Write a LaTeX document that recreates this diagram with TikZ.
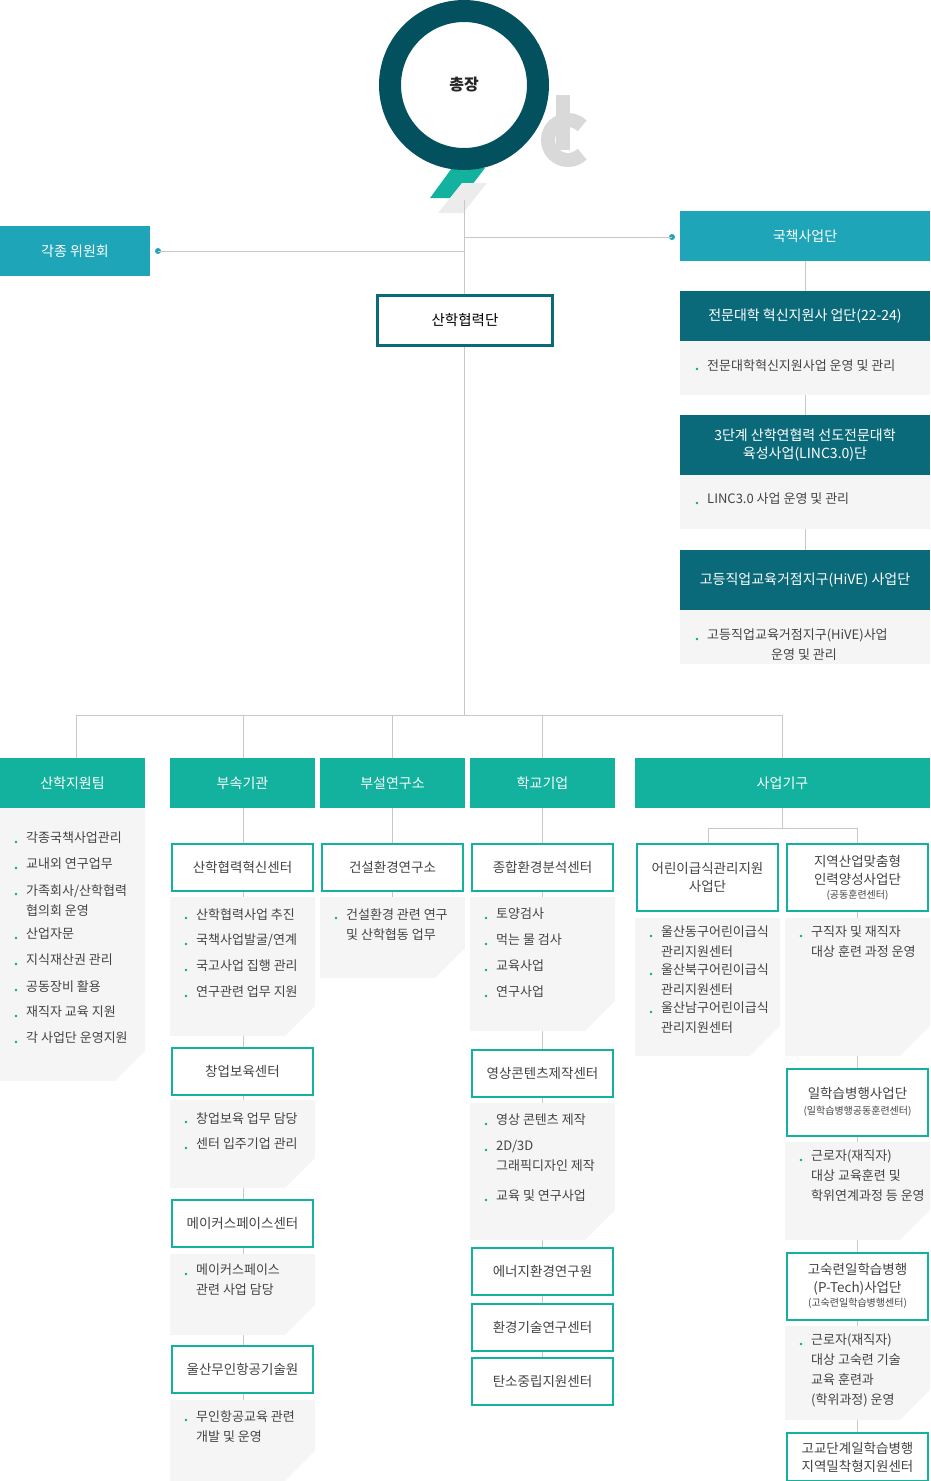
\documentclass[tikz,border=0pt]{standalone}
\usepackage{fontspec}
\setmainfont{Noto Sans CJK KR}
\usetikzlibrary{positioning}
\definecolor{topcolor}{HTML}{1FA5B8}
\definecolor{hdrcolor}{HTML}{13B29F}
\definecolor{darkcolor}{HTML}{0B6A7A}
\definecolor{ringcolor}{HTML}{03505F}
\definecolor{listbg}{HTML}{F5F5F5}
\definecolor{linecolor}{HTML}{C8C8C8}
\definecolor{txtcolor}{HTML}{444444}
\definecolor{logogray}{HTML}{D9D9D9}

\tikzset{
  topbox/.style={fill=topcolor, text=white, minimum height=50pt, inner sep=0pt, font=\fontsize{14}{17}\selectfont},
  hdrbox/.style={fill=hdrcolor, text=white, minimum height=50pt, inner sep=0pt, font=\fontsize{14}{17}\selectfont},
  darkbox/.style={fill=darkcolor, text=white, inner sep=0pt, align=center, font=\fontsize{14}{18}\selectfont},
  unitbox/.style={draw=hdrcolor, line width=2pt, fill=white, text=txtcolor, inner sep=0pt, align=center, minimum width=141pt, font=\fontsize{13.5}{18}\selectfont},
  itmtext/.style={anchor=north west, inner sep=0pt, align=left, text=txtcolor, font=\fontsize{13}{20}\selectfont},
  conn/.style={draw=linecolor, line width=1pt},
}
\newcommand\cutbox[4]{\fill[listbg] (#1,#2) -- (#3,#2) -- (#3,#4-30) -- (#3-30,#4) -- (#1,#4) -- cycle;}
% bullet: name, x, y (first line centre), text
\newcommand\bul[4]{%
  \fill[hdrcolor!80!darkcolor] (#2,#3) circle (1.4pt);
  \node[itmtext] (#1) at (#2+10,#3-10) {#4};}

\begin{document}
\begin{tikzpicture}[x=1pt,y=-1pt]
\useasboundingbox (0,0) rectangle (930,1481);

% logo
\fill[logogray] (527,95) rectangle (541,118);
\draw[logogray, line width=14pt] ([shift={(568,140)}]45:20) arc (45:315:20);
\fill[logogray] (556,95) rectangle (570,150);
\fill[hdrcolor] (452,168) -- (485,168) -- (462,198) -- (430,198) -- cycle;
\fill[logogray!50] (462,183) -- (487,183) -- (463,213) -- (438,213) -- cycle;
\draw[ringcolor, line width=22pt, fill=white] (464,85) circle (74);
\node[font=\fontsize{16}{18}\selectfont\bfseries, text=black!85] (pres) at (464,85) {총장};

% main spine
\coordinate (sp0) at (464,200);
\coordinate (sp1) at (464,715);
\draw[conn] (sp0) -- (sp1);
\coordinate (jr) at (464,237);
\coordinate (jl) at (464,251);
\fill[topcolor] (672,237) circle (3pt);
\fill[topcolor] (158,251) circle (3pt);
\draw[conn] (jr) -- (672,237);
\draw[conn] (jl) -- (158,251);

\node[topbox, minimum width=150pt] (cmte) at (75,251) {각종 위원회};
\node[topbox, minimum width=250pt] (natl) at (805,236) {국책사업단};
\node[draw=darkcolor, line width=3pt, fill=white, minimum width=175pt, minimum height=50pt, font=\fontsize{14.5}{17}\selectfont] (iucf) at (465,320) {산학협력단};

% national projects
\draw[conn] (805,261) -- (805,664);
\node[darkbox, minimum width=250pt, minimum height=50pt] (p1) at (805,316) {전문대학 혁신지원사 업단(22-24)};
\fill[listbg] (680,341) rectangle (930,395);
\bul{p1a}{697}{369}{전문대학혁신지원사업 운영 및 관리}
\node[darkbox, minimum width=250pt, minimum height=60pt] (p2) at (805,445) {3단계 산학연협력 선도전문대학\\육성사업(LINC3.0)단};
\fill[listbg] (680,475) rectangle (930,529);
\bul{p2a}{697}{503}{LINC3.0 사업 운영 및 관리}
\node[darkbox, minimum width=250pt, minimum height=60pt] (p3) at (805,580) {고등직업교육거점지구(HiVE) 사업단};
\fill[listbg] (680,610) rectangle (930,664);
\bul{p3a}{697}{639}{\hspace*{0pt}고등직업교육거점지구(HiVE)사업\\\hspace*{64pt}운영 및 관리}

% branch bar
\draw[conn] (76,715) -- (782,715);
\foreach \bx in {76,243,392,542,782} \draw[conn] (\bx,715) -- (\bx,758);

\node[hdrbox, minimum width=145pt] (team) at (72.5,783) {산학지원팀};
\node[hdrbox, minimum width=145pt] (affil) at (242.5,783) {부속기관};
\node[hdrbox, minimum width=145pt] (inst) at (392.5,783) {부설연구소};
\node[hdrbox, minimum width=145pt] (corp) at (542.5,783) {학교기업};
\node[hdrbox, minimum width=295pt] (proj) at (782.5,783) {사업기구};

% team list
\cutbox{0}{808}{145}{1081}
\bul{t1}{16}{842}{각종국책사업관리}
\bul{t2}{16}{868}{교내외 연구업무}
\bul{t3}{16}{894}{가족회사/산학협력\\협의회 운영}
\bul{t4}{16}{938}{산업자문}
\bul{t5}{16}{964}{지식재산권 관리}
\bul{t6}{16}{990}{공동장비 활용}
\bul{t7}{16}{1016}{재직자 교육 지원}
\bul{t8}{16}{1042}{각 사업단 운영지원}

% affiliated
\draw[conn] (243,808) -- (243,1400);
\node[unitbox, minimum height=47pt] (a1) at (242.5,867) {산학협력혁신센터};
\cutbox{170}{897}{315}{1036}
\bul{a1a}{186}{918}{산학협력사업 추진}
\bul{a1b}{186}{944}{국책사업발굴/연계}
\bul{a1c}{186}{970}{국고사업 집행 관리}
\bul{a1d}{186}{996}{연구관련 업무 지원}
\node[unitbox, minimum height=47pt] (a2) at (242.5,1071.5) {창업보육센터};
\cutbox{170}{1100}{315}{1188}
\bul{a2a}{186}{1122}{창업보육 업무 담당}
\bul{a2b}{186}{1148}{센터 입주기업 관리}
\node[unitbox, minimum height=47pt] (a3) at (242.5,1223.5) {메이커스페이스센터};
\cutbox{170}{1254}{315}{1335}
\bul{a3a}{186}{1274}{메이커스페이스\\관련 사업 담당}
\node[unitbox, minimum height=47pt] (a4) at (242.5,1369.5) {울산무인항공기술원};
\cutbox{170}{1400}{315}{1481}
\bul{a4a}{186}{1420}{무인항공교육 관련\\개발 및 운영}

% institute
\draw[conn] (392,808) -- (392,897);
\node[unitbox, minimum height=47pt] (i1) at (392.5,867) {건설환경연구소};
\cutbox{320}{897}{465}{978}
\bul{i1a}{336}{918}{건설환경 관련 연구\\및 산학협동 업무}

% school enterprise
\draw[conn] (542,808) -- (542,1357);
\node[unitbox, minimum height=47pt] (c1) at (542.5,867) {종합환경분석센터};
\cutbox{470}{897}{615}{1031}
\bul{c1a}{486}{918}{토양검사}
\bul{c1b}{486}{944}{먹는 물 검사}
\bul{c1c}{486}{970}{교육사업}
\bul{c1d}{486}{996}{연구사업}
\node[unitbox, minimum height=47pt] (c2) at (542.5,1073) {영상콘텐츠제작센터};
\cutbox{470}{1103}{615}{1240}
\bul{c2a}{486}{1124}{영상 콘텐츠 제작}
\bul{c2b}{486}{1150}{2D/3D\\그래픽디자인 제작}
\bul{c2c}{486}{1200}{교육 및 연구사업}
\node[unitbox, minimum height=47pt] (c3) at (542.5,1271) {에너지환경연구원};
\node[unitbox, minimum height=47pt] (c4) at (542.5,1327) {환경기술연구센터};
\node[unitbox, minimum height=47pt] (c5) at (542.5,1381) {탄소중립지원센터};

% projects
\draw[conn] (782,808) -- (782,828);
\draw[conn] (708,843) -- (708,828) -- (857,828) -- (857,1432);
\node[unitbox, minimum height=67pt] (b1) at (707.5,877.5) {어린이급식관리지원\\사업단};
\cutbox{635}{918}{780}{1056}
\bul{b1a}{651}{936}{울산동구어린이급식\\관리지원센터}
\bul{b1b}{651}{974}{울산북구어린이급식\\관리지원센터}
\bul{b1c}{651}{1012}{울산남구어린이급식\\관리지원센터}
\node[unitbox, minimum height=67pt] (b2) at (857.5,877.5) {지역산업맞춤형\\인력양성사업단\\[-4pt]{\fontsize{10}{12}\selectfont(공동훈련센터)}};
\cutbox{785}{918}{930}{1056}
\bul{b2a}{801}{936}{구직자 및 재직자\\대상 훈련 과정 운영}
\node[unitbox, minimum height=67pt] (b3) at (857.5,1102) {일학습병행사업단\\[-2pt]{\fontsize{10}{12}\selectfont(일학습병행공동훈련센터)}};
\cutbox{785}{1142}{930}{1240}
\bul{b3a}{801}{1160}{근로자(재직자)\\대상 교육훈련 및\\학위연계과정 등 운영}
\node[unitbox, minimum height=67pt] (b4) at (857.5,1286) {고숙련일학습병행\\(P-Tech)사업단\\[-4pt]{\fontsize{10}{12}\selectfont(고숙련일학습병행센터)}};
\cutbox{785}{1326}{930}{1420}
\bul{b4a}{801}{1344}{근로자(재직자)\\대상 고숙련 기술\\교육 훈련과\\(학위과정) 운영}
\node[unitbox, minimum height=48pt] (b5) at (857.5,1457) {고교단계일학습병행\\지역밀착형지원센터};
\end{tikzpicture}
\end{document}
